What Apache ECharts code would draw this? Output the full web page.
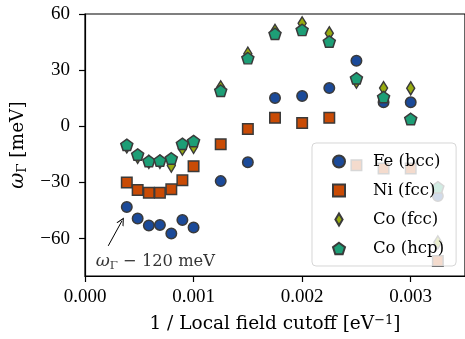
<!DOCTYPE html>
<html>
<head>
<meta charset="utf-8">
<script src="https://cdn.jsdelivr.net/npm/echarts@6/dist/echarts.min.js"></script>
<style>
  html, body { margin: 0; padding: 0; background: #fff; }
  #chart { width: 465px; height: 339px; }
</style>
</head>
<body>
<div id="chart"></div>
<script>
// Inverse local-field cutoff (eV^-1)
const invCutoff = [0.000385, 0.000485, 0.000588, 0.00069, 0.000795, 0.000897, 0.001,
                   0.00125, 0.0015, 0.00175, 0.002, 0.00225, 0.0025, 0.00275, 0.003, 0.00325];

// Gamma-point frequency (meV) per material
const feBcc = [-43.1, -49.3, -53.0, -52.7, -57.3, -50.1, -54.1, -29.3, -19.2, 15.1, 16.2, 20.4, 35.0, 12.8, 12.8, -37.3];
const niFcc = [-30.1, -34.1, -35.5, -35.5, -33.7, -28.9, -21.3, -9.6, -1.4, 4.5, 1.8, 4.5, -20.8, -22.5, -22.5, -72.0];
const coFcc = [-10.8, -16.3, -19.0, -19.0, -21.0, -12.0, -11.0, 20.8, 38.8, 51.0, 55.0, 49.7, 23.8, 20.4, 20.3, -62.0];
const coHcp = [-9.9, -15.1, -18.6, -18.3, -17.2, -9.4, -7.9, 19.0, 36.4, 49.4, 51.5, 45.3, 25.6, 15.6, 3.9, -32.6];

const seriesNames = ['Fe (bcc)', 'Ni (fcc)', 'Co (fcc)', 'Co (hcp)'];

const xTicks = [0, 0.001, 0.002, 0.003];
const yTicks = [-60, -30, 0, 30, 60];

// Offset annotation: arrow tail/head and text anchor in data units
const arrowTail = [0.000214, -63.9];
const arrowHead = [0.00034, -50.6];
const noteAnchor = [0.0000983, -72.4];

const NUM_FONT = '"Liberation Serif", serif';
const TXT_FONT = '"DejaVu Serif", serif';
const EDGE = '#3a3a3a';

const PENTAGON = 'path://M50 0L97.55 34.55L79.39 90.45L20.61 90.45L2.45 34.55Z';
const THIN_DIAMOND = 'path://M30 0L60 50L30 100L0 50Z';
const OPEN_ARROW = 'path://M0 10L5 0L10 10L8.6 10L5 2.8L1.4 10Z';

const styles = [
  { color: '#1b4a99', symbol: 'circle', size: 10.5 },
  { color: '#c94b05', symbol: 'rect', size: 10.5 },
  { color: '#97ab10', symbol: THIN_DIAMOND, size: [8, 13] },
  { color: '#1d9e76', symbol: PENTAGON, size: [12, 11.4] }
];
const values = [feBcc, niFcc, coFcc, coHcp];

function pairs(ys) { return invCutoff.map((x, i) => [x, ys[i]]); }
function minusFmt(v) { return v < 0 ? '\u2212' + Math.abs(v) : String(v); }

const scatterSeries = seriesNames.map((name, k) => ({
  name: name,
  type: 'scatter',
  data: pairs(values[k]),
  symbol: styles[k].symbol,
  symbolSize: styles[k].size,
  itemStyle: { color: styles[k].color, borderColor: EDGE, borderWidth: 1.5, opacity: 1 },
  emphasis: { disabled: true },
  z: 2
}));

function mathRich(base) {
  return {
    w: { fontFamily: TXT_FONT, fontSize: base + 1, fontStyle: 'italic', color: '#000' },
    g: { fontFamily: TXT_FONT, fontSize: base * 0.72, color: '#000', padding: [base * 0.5, 0, 0, 0] },
    t: { fontFamily: TXT_FONT, fontSize: base, color: '#000' }
  };
}

const chart = echarts.init(document.getElementById('chart'), null, { renderer: 'canvas' });

chart.setOption({
  animation: false,
  backgroundColor: '#ffffff',
  grid: {
    left: 85, top: 14, width: 381, height: 263,
    show: true, borderColor: '#000', borderWidth: 1.2, backgroundColor: 'transparent'
  },
  xAxis: {
    type: 'value', min: 0, max: 0.0035,
    name: '{t|1 / Local field cutoff [eV}{s|\u22121}{t|]}',
    nameLocation: 'middle', nameGap: 38,
    nameTextStyle: {
      rich: {
        t: { fontFamily: TXT_FONT, fontSize: 18.5, color: '#000' },
        s: { fontFamily: TXT_FONT, fontSize: 13, color: '#000', padding: [0, 0, 8, 0] }
      }
    },
    axisLine: { show: true, onZero: false, lineStyle: { color: '#000', width: 1.2 } },
    axisTick: { show: true, inside: false, length: 6, lineStyle: { color: '#000', width: 1.2 }, customValues: xTicks },
    axisLabel: { customValues: xTicks, margin: 12, fontFamily: NUM_FONT, fontSize: 19, color: '#000',
                 formatter: v => v.toFixed(3) },
    splitLine: { show: false }
  },
  yAxis: {
    type: 'value', min: -80, max: 60,
    name: '{w|\u03C9}{g|\u0393}{t| [meV]}',
    nameLocation: 'middle', nameGap: 55, nameRotate: 90,
    nameTextStyle: { rich: mathRich(18.5) },
    axisLine: { show: true, onZero: false, lineStyle: { color: '#000', width: 1.2 } },
    axisTick: { show: true, inside: false, length: 6, lineStyle: { color: '#000', width: 1.2 }, customValues: yTicks },
    axisLabel: { customValues: yTicks, margin: 15, fontFamily: NUM_FONT, fontSize: 19, color: '#000',
                 formatter: minusFmt },
    splitLine: { show: false }
  },
  legend: {
    orient: 'vertical',
    left: 312, top: 143,
    padding: [10, 12, 9, 20],
    itemWidth: 12, itemHeight: 12, itemGap: 12,
    backgroundColor: 'rgba(255,255,255,0.8)',
    borderColor: 'rgba(204,204,204,0.8)', borderWidth: 1, borderRadius: 4,
    textStyle: { fontFamily: TXT_FONT, fontSize: 16.5, color: '#000', padding: [0, 0, 0, 23] },
    data: seriesNames.map((n, k) => ({ name: n, icon: styles[k].symbol })),
    selectedMode: false,
    z: 10
  },
  series: scatterSeries.concat([
    {
      type: 'lines',
      coordinateSystem: 'cartesian2d',
      silent: true,
      symbol: ['none', OPEN_ARROW],
      symbolSize: [0, 8],
      lineStyle: { color: '#000', width: 1, opacity: 1 },
      data: [{ coords: [arrowTail, arrowHead] }],
      z: 3
    },
    {
      type: 'scatter',
      silent: true,
      symbolSize: 0,
      data: [noteAnchor],
      label: {
        show: true, position: 'right', distance: 0,
        formatter: '{w|\u03C9}{g|\u0393}{t| \u2212 120 meV}',
        rich: mathRich(16.3)
      },
      z: 3
    }
  ])
});
</script>
</body>
</html>
